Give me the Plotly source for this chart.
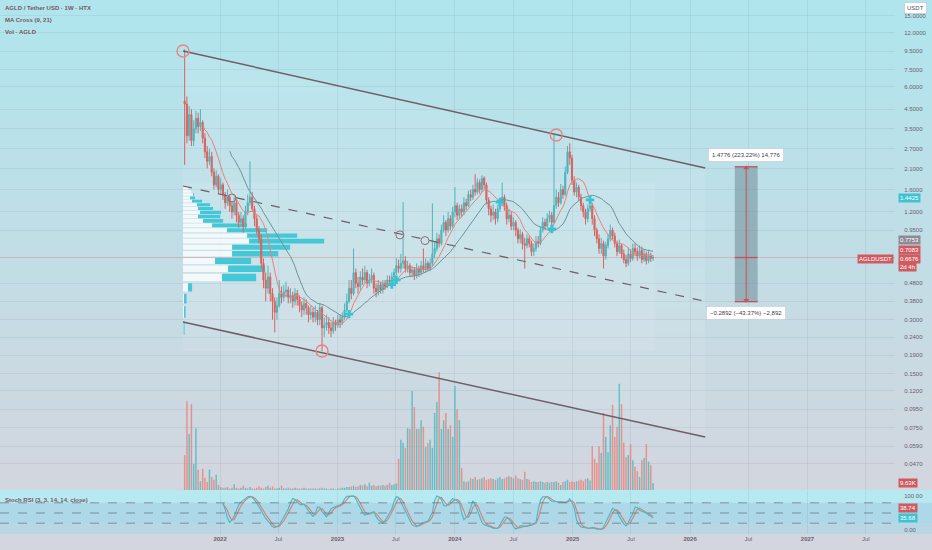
import numpy as np
import pandas as pd
import plotly.graph_objects as go

# ---------------- data ----------------
start_week = "2021-09-13"
first_open = 5.00
close = [
    4.80, 3.20, 4.20, 3.00, 3.50, 4.00, 3.60, 3.80, 3.10, 2.60,
    2.30, 2.45, 2.00, 1.70, 1.90, 1.60, 1.70, 1.50, 1.35, 1.45,
    1.30, 1.20, 1.35, 1.15, 1.05, 1.10, 1.00, 1.20, 1.35, 1.45,
    1.25, 1.10, 0.95, 0.85, 0.62, 0.50, 0.45, 0.52, 0.42, 0.38,
    0.33, 0.36, 0.42, 0.40, 0.43, 0.44, 0.40, 0.41, 0.38, 0.42,
    0.39, 0.36, 0.34, 0.37, 0.35, 0.32, 0.33, 0.31, 0.33, 0.30,
    0.35, 0.27, 0.28, 0.29, 0.27, 0.26, 0.29, 0.28, 0.30, 0.29,
    0.31, 0.34, 0.38, 0.45, 0.42, 0.55, 0.48, 0.46, 0.52, 0.50,
    0.55, 0.48, 0.50, 0.53, 0.45, 0.43, 0.47, 0.44, 0.48, 0.46,
    0.50, 0.49, 0.52, 0.55, 0.60, 0.58, 0.62, 0.64, 0.58, 0.60,
    0.55, 0.57, 0.53, 0.58, 0.55, 0.60, 0.57, 0.62, 0.58, 0.62,
    0.70, 0.75, 0.85, 0.80, 0.95, 1.05, 0.95, 1.10, 1.00, 1.20,
    1.30, 1.15, 1.25, 1.20, 1.35, 1.30, 1.50, 1.45, 1.60, 1.55,
    1.75, 1.60, 1.85, 1.70, 1.40, 1.25, 1.15, 1.20, 1.10, 1.25,
    1.35, 1.45, 1.30, 1.10, 1.15, 1.00, 1.05, 0.95, 0.85, 0.90,
    0.80, 0.78, 0.85, 0.80, 0.72, 0.75, 0.82, 0.80, 0.95, 1.05,
    1.00, 1.10, 1.15, 1.05, 1.30, 1.45, 1.35, 1.60, 1.50, 2.00,
    2.60, 2.40, 1.80, 1.55, 1.65, 1.45, 1.30, 1.20, 1.10, 1.25,
    1.30, 1.10, 0.95, 0.85, 0.75, 0.80, 0.68, 0.78, 0.85, 0.95,
    0.88, 0.80, 0.72, 0.78, 0.70, 0.65, 0.62, 0.70, 0.66, 0.75,
    0.72, 0.68, 0.73, 0.65, 0.70, 0.64, 0.68, 0.66, 0.6676,
]
high = [
    9.70, 5.30, 4.70, 4.50, 3.90, 4.40, 4.30, 4.50, 3.90, 3.30,
    2.80, 2.70, 2.60, 2.10, 2.05, 1.95, 1.85, 1.75, 1.55, 1.60,
    1.50, 1.38, 1.45, 1.40, 1.20, 1.20, 1.15, 1.30, 1.50, 2.30,
    1.55, 1.30, 1.15, 1.00, 0.90, 0.66, 0.55, 0.60, 0.55, 0.45,
    0.40, 0.40, 0.50, 0.46, 0.47, 0.49, 0.46, 0.45, 0.43, 0.45,
    0.44, 0.41, 0.38, 0.40, 0.39, 0.36, 0.36, 0.35, 0.36, 0.34,
    0.37, 0.36, 0.31, 0.32, 0.31, 0.29, 0.31, 0.30, 0.32, 0.32,
    0.33, 0.37, 0.42, 0.50, 0.50, 0.75, 0.58, 0.52, 0.56, 0.58,
    0.60, 0.57, 0.54, 0.58, 0.55, 0.48, 0.50, 0.49, 0.50, 0.50,
    0.53, 0.53, 0.55, 0.58, 0.66, 0.65, 0.70, 1.36, 0.68, 0.64,
    0.62, 0.60, 0.59, 0.62, 0.60, 0.64, 0.75, 0.66, 0.64, 0.66,
    1.34, 0.82, 0.92, 0.90, 1.02, 1.15, 1.08, 1.20, 1.15, 1.28,
    1.65, 1.35, 1.32, 1.32, 1.45, 1.42, 1.58, 1.60, 1.70, 1.95,
    1.85, 1.82, 1.92, 1.90, 1.75, 1.45, 1.30, 1.32, 1.25, 1.32,
    1.45, 1.75, 1.50, 1.35, 1.25, 1.20, 1.12, 1.08, 0.98, 0.96,
    0.93, 0.86, 0.90, 0.88, 0.83, 0.80, 0.88, 0.88, 1.00, 1.12,
    1.10, 1.18, 1.22, 1.20, 3.25, 1.60, 1.55, 1.72, 1.68, 2.15,
    2.80, 2.90, 2.50, 1.90, 1.75, 1.70, 1.52, 1.35, 1.25, 1.32,
    1.42, 1.35, 1.15, 0.98, 0.90, 0.86, 0.83, 0.82, 0.90, 1.02,
    0.98, 0.92, 0.83, 0.84, 0.80, 0.74, 0.69, 0.76, 0.74, 0.80,
    0.80, 0.76, 0.78, 0.77, 0.74, 0.72, 0.74, 0.71, 0.69,
]
low = [
    2.20, 2.90, 3.00, 2.80, 2.80, 3.30, 3.30, 3.40, 2.90, 2.40,
    2.10, 2.20, 1.90, 1.60, 1.65, 1.50, 1.50, 1.40, 1.25, 1.30,
    1.20, 1.10, 1.15, 1.05, 0.98, 1.00, 0.92, 0.97, 1.15, 1.30,
    1.20, 1.00, 0.90, 0.80, 0.58, 0.45, 0.38, 0.42, 0.38, 0.30,
    0.255, 0.30, 0.35, 0.37, 0.38, 0.40, 0.37, 0.37, 0.35, 0.36,
    0.36, 0.33, 0.31, 0.32, 0.32, 0.29, 0.30, 0.29, 0.29, 0.28,
    0.28, 0.20, 0.24, 0.26, 0.25, 0.24, 0.25, 0.26, 0.27, 0.27,
    0.28, 0.30, 0.33, 0.37, 0.39, 0.41, 0.45, 0.42, 0.44, 0.47,
    0.48, 0.45, 0.46, 0.48, 0.42, 0.40, 0.41, 0.42, 0.42, 0.44,
    0.45, 0.47, 0.48, 0.50, 0.53, 0.55, 0.55, 0.58, 0.55, 0.55,
    0.52, 0.52, 0.50, 0.51, 0.52, 0.53, 0.55, 0.55, 0.56, 0.56,
    0.60, 0.66, 0.72, 0.76, 0.78, 0.92, 0.88, 0.92, 0.95, 0.98,
    1.12, 1.08, 1.10, 1.12, 1.15, 1.22, 1.28, 1.38, 1.40, 1.48,
    1.50, 1.52, 1.55, 1.60, 1.32, 1.15, 1.05, 1.08, 1.02, 1.05,
    1.20, 1.30, 1.22, 1.02, 1.05, 0.95, 0.95, 0.88, 0.80, 0.80,
    0.74, 0.58, 0.75, 0.76, 0.68, 0.68, 0.72, 0.76, 0.78, 0.92,
    0.95, 0.98, 1.05, 1.00, 1.02, 1.25, 1.28, 1.32, 1.42, 1.48,
    1.95, 2.20, 1.70, 1.48, 1.45, 1.38, 1.22, 1.12, 1.02, 1.05,
    1.20, 1.02, 0.88, 0.80, 0.70, 0.70, 0.58, 0.65, 0.75, 0.82,
    0.84, 0.76, 0.68, 0.70, 0.66, 0.62, 0.59, 0.60, 0.63, 0.64,
    0.68, 0.64, 0.66, 0.62, 0.63, 0.61, 0.62, 0.63, 0.64,
]
volume_k = [
    48, 122, 77, 118, 36, 85, 28, 12, 29, 17, 11, 28, 18, 14, 21, 7,
    4, 3, 3, 4, 2, 3, 8, 3, 2, 3, 6, 3, 2, 4, 2, 2, 3, 5, 3, 2,
    4, 6, 3, 5, 2, 2, 3, 6, 2, 2, 3, 2, 2, 3, 2, 2, 2, 3, 2, 2,
    2, 2, 2, 2, 2, 3, 2, 2, 1, 2, 2, 1, 2, 2, 3, 3, 4, 4, 5, 6,
    4, 5, 7, 6, 8, 5, 10, 6, 7, 5, 6, 6, 7, 6, 7, 10, 7, 8, 9,
    43, 69, 65, 58, 85, 84, 136, 114, 84, 84, 96, 87, 59, 65, 69, 58,
    106, 121, 162, 84, 96, 106, 84, 89, 73, 143, 111, 96, 30,
    12, 11, 12, 16, 15, 18, 14, 15, 16, 18, 14, 15, 16, 15, 14, 16,
    18, 15, 16, 18, 19, 18, 16, 20, 16, 15, 14, 25, 15, 14, 11, 12,
    11, 11, 12, 11, 10, 11, 10, 11, 11, 12, 10, 7, 11, 12, 14, 11,
    12, 11, 12, 13, 14, 12, 15, 16, 13,
    60, 43, 37, 60, 51, 106, 73, 52, 89, 117, 73, 87, 146, 118, 65, 45,
    48, 63, 41, 32, 26, 18, 41, 44, 63, 39, 34, 9.63,
]
# Stoch RSI %K (aligned to the most recent weeks)
stoch_k = [
    78, 60, 35, 22, 30, 40, 58, 74, 82, 88,
    94, 98, 99, 96, 88, 80, 68, 56, 45, 34,
    26, 18, 10, 7, 10, 15, 26, 38, 50, 62,
    80, 93, 90, 84, 76, 74, 76, 66, 55, 47,
    40, 48, 68, 66, 54, 45, 39, 50, 62, 66,
    68, 70, 74, 78, 92, 99, 100, 100, 100, 92,
    78, 64, 52, 44, 47, 49, 52, 54, 40, 30,
    25, 20, 28, 39, 52, 62, 84, 98, 96, 82,
    70, 52, 39, 26, 15, 12, 10, 14, 19, 22,
    24, 26, 38, 52, 86, 100, 97, 90, 72, 70,
    76, 85, 92, 90, 86, 80, 50, 30, 36, 45,
    66, 86, 75, 55, 40, 22, 15, 13, 12, 8,
    5, 5, 5, 15, 28, 38, 38, 30, 24, 10,
    3, 6, 12, 12, 10, 12, 14, 17, 19, 22,
    60, 88, 98, 99, 98, 90, 84, 83, 84, 82,
    81, 80, 81, 84, 92, 80, 66, 30, 16, 9,
    7, 5, 5, 6, 8, 5, 2, 2, 2, 8,
    22, 35, 52, 64, 60, 54, 40, 27, 18, 12,
    22, 36, 48, 68, 66, 58, 56, 54, 50, 44,
    40, 36,
]

price_ticks = [0.047, 0.059, 0.075, 0.095, 0.12, 0.15, 0.19, 0.24, 0.30, 0.38,
               0.48, 0.95, 1.2, 1.6, 2.1, 2.7, 3.5, 4.5, 6.0, 7.5, 9.5, 12.0, 15.0]
time_ticks = ["2022-01-01", "2022-07-01", "2023-01-01", "2023-07-01", "2024-01-01",
              "2024-07-01", "2025-01-01", "2025-07-01", "2026-01-01", "2026-07-01",
              "2027-01-01", "2027-07-01"]
time_tick_labels = ["2022", "Jul", "2023", "Jul", "2024", "Jul", "2025", "Jul",
                    "2026", "Jul", "2027", "Jul"]

# drawings
channel_dates = ["2021-09-08", "2026-02-17"]
channel_top = [9.51, 2.11]
channel_mid = [1.675, 0.38]
channel_bot = [0.291, 0.0664]
pivot_dates = ["2021-09-08", "2022-11-14", "2024-11-11"]
pivot_prices = [9.51, 0.2005, 3.23]
touch_dates = ["2022-02-07", "2023-07-14", "2023-09-30"]
touch_prices = [1.436, 0.893, 0.83]

# visible-range volume profile
profile_price = [0.2708, 0.3323, 0.3938, 0.4553, 0.5168, 0.5783, 0.6398, 0.7013,
                 0.7628, 0.8243, 0.8858, 0.9473, 1.0088, 1.0703, 1.1318, 1.1933,
                 1.2548, 1.3163, 1.3778, 1.4393, 1.5008, 1.5623, 1.6238]
profile_up = [0.5, 1, 1, 5, 39, 45, 32, 49, 49, 66, 64, 44, 29, 20, 15, 17, 15, 14,
              9, 7, 10, 8, 5]
profile_down = [1, 1.5, 2.5, 4, 34, 37, 36, 46, 58, 75, 50, 40, 35, 20, 22, 21, 15,
                13, 10, 5, 1, 0, 0]
profile_step = 0.0615
profile_range_dates = ["2021-09-08", "2025-09-15"]
profile_range_prices = [0.20, 1.75]

last_price = 0.6676
ma_fast_label, ma_slow_label, poc_label = 0.7083, 0.7753, 1.4425
measure_dates = ["2026-05-20", "2026-07-30"]
measure_up = 1.4776
measure_down = 0.2892
measure_up_text = "1.4776 (223.22%) 14,776"
measure_down_text = "\u22120.2892 (\u221243.37%) \u22122,892"
stoch_k_label, stoch_d_label = "35.68", "38.74"
volume_label = "9.63K"

# ---------------- derived series ----------------
n = len(close)
dates = pd.date_range(start_week, periods=n, freq="7D")
opens = [first_open] + close[:-1]
cs = pd.Series(close)
ma9 = cs.rolling(9).mean()
ma21 = cs.rolling(21).mean()
diff = (ma9 - ma21).values
cross_x, cross_y = [], []
for i in range(1, n):
    if np.isfinite(diff[i]) and np.isfinite(diff[i - 1]) and np.sign(diff[i]) != np.sign(diff[i - 1]):
        cross_x.append(dates[i])
        cross_y.append(ma9[i])
k_dates = dates[n - len(stoch_k):]
stoch_d = pd.Series(stoch_k).rolling(3, min_periods=1).mean()

UP = "#4db5bb"
DN = "#da625e"
FONT = "Liberation Sans"
TXT = "#6a6270"

# ---------------- layout geometry (pixels) ----------------
W, H = 932, 550
ML, MR, MT, MB = 0, 37, 0, 16
PH = H - MT - MB
MAIN_BOTTOM_PX = 490
STOCH_TOP_PX = 491


def py(p):
    return 1 - p / PH


fig = go.Figure()

# channel background & profile range box (bottom layer, main log axis)
d0, d1 = channel_dates
fig.add_trace(go.Scatter(
    x=[d0, d1, d1, d0, d0],
    y=[channel_top[0], channel_top[1], channel_bot[1], channel_bot[0], channel_top[0]],
    fill="toself", fillcolor="rgba(255,255,255,0.09)", line=dict(width=0),
    mode="lines", xaxis="x", yaxis="y", hoverinfo="skip", showlegend=False))
p0, p1 = profile_range_dates
fig.add_trace(go.Scatter(
    x=[p0, p1, p1, p0, p0],
    y=[profile_range_prices[0]] * 2 + [profile_range_prices[1]] * 2 + [profile_range_prices[0]],
    fill="toself", fillcolor="rgba(255,255,255,0.08)", line=dict(width=0),
    mode="lines", xaxis="x", yaxis="y", hoverinfo="skip", showlegend=False))

# volume profile rows
days_per_unit = 3.111
pstart = pd.Timestamp(profile_range_dates[0])
wx, wy, cx, cy = [], [], [], []
for pr, u, d in zip(profile_price, profile_up, profile_down):
    lo, hi = pr - profile_step * 0.40, pr + profile_step * 0.40
    xa = pstart
    xb = pstart + pd.Timedelta(days=u * days_per_unit)
    xc = pstart + pd.Timedelta(days=(u + d) * days_per_unit)
    if u > 0:
        wx += [xa, xb, xb, xa, xa, None]
        wy += [lo, lo, hi, hi, lo, None]
    if d > 0:
        cx += [xb, xc, xc, xb, xb, None]
        cy += [lo, lo, hi, hi, lo, None]
fig.add_trace(go.Scatter(x=wx, y=wy, fill="toself", fillcolor="rgba(246,250,252,0.92)",
                         line=dict(width=0), mode="lines", xaxis="x", yaxis="y",
                         hoverinfo="skip", showlegend=False))
fig.add_trace(go.Scatter(x=cx, y=cy, fill="toself", fillcolor="rgba(60,198,215,0.95)",
                         line=dict(width=0), mode="lines", xaxis="x", yaxis="y",
                         hoverinfo="skip", showlegend=False))

# volume bars
vcol = ["rgba(74,184,190,0.8)" if c >= o else "rgba(236,128,118,0.8)" for o, c in zip(opens, close)]
fig.add_trace(go.Bar(x=dates, y=volume_k, marker=dict(color=vcol, line=dict(width=0)),
                     width=4.6 * 86400000, xaxis="x", yaxis="y3", hoverinfo="skip",
                     showlegend=False))

# current price line
fig.add_trace(go.Scatter(x=["2020-02-17", "2027-09-30"], y=[last_price, last_price],
                         mode="lines", line=dict(color="rgba(214,110,110,0.35)", width=1),
                         xaxis="x", yaxis="y4", hoverinfo="skip", showlegend=False))

# channel lines
for ys, dash, wdt in [(channel_top, "solid", 1.5), (channel_bot, "solid", 1.5), (channel_mid, "dash", 1.2)]:
    fig.add_trace(go.Scatter(x=channel_dates, y=ys, mode="lines",
                             line=dict(color="#6e5e68", width=wdt, dash=dash),
                             xaxis="x", yaxis="y4", hoverinfo="skip", showlegend=False))

# candles
fig.add_trace(go.Candlestick(
    x=dates, open=opens, high=high, low=low, close=close,
    increasing=dict(line=dict(color=UP, width=1), fillcolor=UP),
    decreasing=dict(line=dict(color=DN, width=1), fillcolor=DN),
    whiskerwidth=0, xaxis="x", yaxis="y4", hoverinfo="skip", showlegend=False))

# moving averages
fig.add_trace(go.Scatter(x=dates, y=ma21, mode="lines", line=dict(color="#6b9597", width=1),
                         xaxis="x", yaxis="y4", hoverinfo="skip", showlegend=False))
fig.add_trace(go.Scatter(x=dates, y=ma9, mode="lines", line=dict(color="#ea8178", width=1),
                         xaxis="x", yaxis="y4", hoverinfo="skip", showlegend=False))
fig.add_trace(go.Scatter(x=cross_x, y=cross_y, mode="markers",
                         marker=dict(symbol="cross", size=7, color="#33c5d6", line=dict(width=0)),
                         xaxis="x", yaxis="y4", hoverinfo="skip", showlegend=False))

# pivots & touches
fig.add_trace(go.Scatter(x=pivot_dates, y=pivot_prices, mode="markers",
                         marker=dict(symbol="circle-open", size=12, color="#e9847e",
                                     line=dict(width=1.4, color="#e9847e")),
                         xaxis="x", yaxis="y4", hoverinfo="skip", showlegend=False))
fig.add_trace(go.Scatter(x=touch_dates, y=touch_prices, mode="markers",
                         marker=dict(symbol="circle-open", size=8, color="#8d6f78",
                                     line=dict(width=1, color="#8d6f78")),
                         xaxis="x", yaxis="y4", hoverinfo="skip", showlegend=False))

# price range measurement
m_top = last_price + measure_up
m_bot = last_price - measure_down
ma_, mb_ = measure_dates
m_mid = pd.Timestamp(ma_) + (pd.Timestamp(mb_) - pd.Timestamp(ma_)) / 2
fig.add_trace(go.Scatter(x=[ma_, mb_, mb_, ma_, ma_], y=[m_bot, m_bot, m_top, m_top, m_bot],
                         fill="toself", fillcolor="rgba(112,140,152,0.55)", line=dict(width=0),
                         mode="lines", xaxis="x", yaxis="y4", hoverinfo="skip", showlegend=False))
for yv in [m_top, last_price, m_bot]:
    fig.add_trace(go.Scatter(x=[ma_, mb_], y=[yv, yv], mode="lines",
                             line=dict(color="#c95058", width=1.3),
                             xaxis="x", yaxis="y4", hoverinfo="skip", showlegend=False))
fig.add_trace(go.Scatter(x=[m_mid, m_mid], y=[m_bot, m_top], mode="lines",
                         line=dict(color="#c95058", width=1),
                         xaxis="x", yaxis="y4", hoverinfo="skip", showlegend=False))
fig.add_trace(go.Scatter(x=[m_mid, m_mid], y=[m_top * 0.985, m_bot * 1.02], mode="markers",
                         marker=dict(symbol=["triangle-up", "triangle-down"], size=5, color="#c95058"),
                         xaxis="x", yaxis="y4", hoverinfo="skip", showlegend=False))

# stoch RSI
fig.add_trace(go.Scatter(x=k_dates, y=stoch_d, mode="lines", line=dict(color="#e8776f", width=1.1),
                         xaxis="x", yaxis="y2", hoverinfo="skip", showlegend=False))
fig.add_trace(go.Scatter(x=k_dates, y=stoch_k, mode="lines", line=dict(color="#3fbcc6", width=1.1),
                         xaxis="x", yaxis="y2", hoverinfo="skip", showlegend=False))

# ---------------- background shapes ----------------
shapes = []
top_c = np.array([176, 230, 238])
bot_c = np.array([211, 214, 223])
step = 10
for p in range(0, MAIN_BOTTOM_PX, step):
    t = (p + step / 2) / MAIN_BOTTOM_PX
    c = (top_c + (bot_c - top_c) * t).astype(int)
    shapes.append(dict(type="rect", xref="paper", yref="paper", x0=-0.01, x1=1.06,
                       y0=py(min(p + step, MAIN_BOTTOM_PX)), y1=py(p) if p > 0 else 1.01,
                       fillcolor=f"rgb({c[0]},{c[1]},{c[2]})", line=dict(width=0), layer="below"))
shapes.append(dict(type="rect", xref="paper", yref="paper", x0=-0.01, x1=1.06,
                   y0=0, y1=py(MAIN_BOTTOM_PX), fillcolor="rgb(183,233,241)",
                   line=dict(width=0), layer="below"))
shapes.append(dict(type="rect", xref="paper", yref="y2", x0=-0.01, x1=1.06, y0=-12, y1=20,
                   fillcolor="rgb(186,214,226)", line=dict(width=0), layer="below"))
shapes.append(dict(type="rect", xref="paper", yref="y2", x0=-0.01, x1=1.06, y0=20, y1=80,
                   fillcolor="rgb(172,216,232)", line=dict(width=0), layer="below"))
shapes.append(dict(type="rect", xref="paper", yref="paper", x0=-0.01, x1=1.06,
                   y0=-MB / PH - 0.01, y1=0, fillcolor="rgb(211,214,222)",
                   line=dict(width=0), layer="below"))
for lvl in [80, 50, 20]:
    shapes.append(dict(type="line", xref="paper", yref="y2", x0=0, x1=1, y0=lvl, y1=lvl,
                       line=dict(color="rgba(105,105,120,0.75)", width=0.9, dash="dash"),
                       layer="above"))

# ---------------- annotations ----------------
ann = []
legend_lines = ["AGLD / Tether USD \u00b7 1W \u00b7 HTX", "MA Cross (9, 21)", "Vol \u00b7 AGLD"]
for i, t in enumerate(legend_lines):
    ann.append(dict(text=f"<b>{t}</b>", xref="paper", yref="paper", x=0, y=py(8 + 12 * i),
                    xanchor="left", yanchor="middle", xshift=3, showarrow=False,
                    font=dict(family=FONT, size=6, color="#7a5663")))
ann.append(dict(text="<b>Stoch RSI (3, 3, 14, 14, close)</b>", xref="paper", yref="paper",
                x=0, y=py(500), xanchor="left", yanchor="middle", xshift=3, showarrow=False,
                font=dict(family=FONT, size=6, color="#7a5663")))
ann.append(dict(text="USDT", xref="paper", yref="paper", x=1, y=1, xanchor="left",
                yanchor="top", xshift=9, yshift=-2, showarrow=False, bgcolor="#ffffff",
                bordercolor="rgba(150,150,160,0.3)", borderwidth=1, borderpad=2,
                font=dict(family=FONT, size=6, color="#555060")))


def axis_label(text, yval, yref, bg, fg="#ffffff", yshift=0):
    ann.append(dict(text=text, xref="paper", yref=yref, x=1, y=yval, xanchor="left",
                    yanchor="middle", xshift=3, yshift=yshift, showarrow=False,
                    bgcolor=bg, borderpad=1, font=dict(family=FONT, size=6, color=fg)))


RED = "#cf5b61"
axis_label(f"{poc_label:.4f}", np.log10(poc_label), "y", "#3fc3d1")
axis_label(f"{ma_slow_label:.4f}", np.log10(ma_slow_label), "y", "#8e8b96", yshift=6)
axis_label(f"{ma_fast_label:.4f}", np.log10(ma_fast_label), "y", RED, yshift=3)
axis_label(f"{last_price:.4f}", np.log10(last_price), "y", RED, yshift=-1)
axis_label("2d 4h", np.log10(last_price), "y", RED, yshift=-9)
axis_label(volume_label, 9.63, "y3", RED)
axis_label(stoch_d_label, float(stoch_d_label), "y2", RED, yshift=9)
axis_label(stoch_k_label, float(stoch_k_label), "y2", "#3fc3d1")
ann.append(dict(text="AGLDUSDT", xref="paper", yref="y", x=1, y=np.log10(last_price),
                xanchor="right", yanchor="middle", xshift=-1, yshift=-1, showarrow=False,
                bgcolor=RED, borderpad=1, font=dict(family=FONT, size=6, color="#ffffff")))
for txt, yv, ys in [(measure_up_text, m_top, 12), (measure_down_text, m_bot, -11)]:
    ann.append(dict(text=txt, xref="x", yref="y", x=m_mid, y=np.log10(yv), yshift=ys,
                    xanchor="center", yanchor="middle", showarrow=False, bgcolor="#ffffff",
                    bordercolor="rgba(150,150,160,0.25)", borderwidth=1, borderpad=3,
                    font=dict(family=FONT, size=6, color="#3f3c48")))

# ---------------- axes ----------------
log_range = [-1.474, 1.263]
main_dom = [(PH - MAIN_BOTTOM_PX) / PH, 1]
stoch_dom = [0, (PH - STOCH_TOP_PX) / PH]
grid_c = "rgba(110,130,150,0.13)"

fig.update_layout(
    width=W, height=H, margin=dict(l=ML, r=MR, t=MT, b=MB),
    paper_bgcolor="rgb(200,222,229)", plot_bgcolor="rgba(0,0,0,0)",
    showlegend=False, hovermode=False, dragmode=False,
    font=dict(family=FONT, size=6, color=TXT),
    xaxis=dict(type="date", range=["2020-02-17", "2027-09-30"], domain=[0, 1], anchor="y2",
               tickvals=time_ticks,
               ticktext=[f"<b>{t}</b>" if t.isdigit() else t for t in time_tick_labels],
               showgrid=True, gridcolor=grid_c, gridwidth=1, zeroline=False, showline=False,
               ticks="", tickfont=dict(family=FONT, size=6, color=TXT),
               rangeslider=dict(visible=False), fixedrange=True),
    yaxis=dict(type="log", range=log_range, domain=main_dom, side="right", anchor="x",
               tickvals=price_ticks, ticktext=[f"{v:.4f}" for v in price_ticks],
               showgrid=True, gridcolor=grid_c, zeroline=False, showline=False,
               ticks="outside", ticklen=7, tickcolor="rgba(0,0,0,0)",
               tickfont=dict(family=FONT, size=6, color=TXT), fixedrange=True),
    yaxis2=dict(range=[-11.8, 114.7], domain=stoch_dom, side="right", anchor="x",
                tickvals=[0, 100], ticktext=["0.00", "100.00"], showgrid=False,
                zeroline=False, showline=False, ticks="outside", ticklen=7,
                tickcolor="rgba(0,0,0,0)", tickfont=dict(family=FONT, size=6, color=TXT),
                fixedrange=True),
    yaxis3=dict(overlaying="y", range=[0, 673.75], visible=False, showgrid=False,
                anchor="x", fixedrange=True),
    yaxis4=dict(overlaying="y", type="log", range=log_range, visible=False, showgrid=False,
                anchor="x", fixedrange=True),
    shapes=shapes, annotations=ann,
)

fig.write_html("out.html", config={"displayModeBar": False},
               post_script="document.body.style.margin='0';document.body.style.padding='0';")
